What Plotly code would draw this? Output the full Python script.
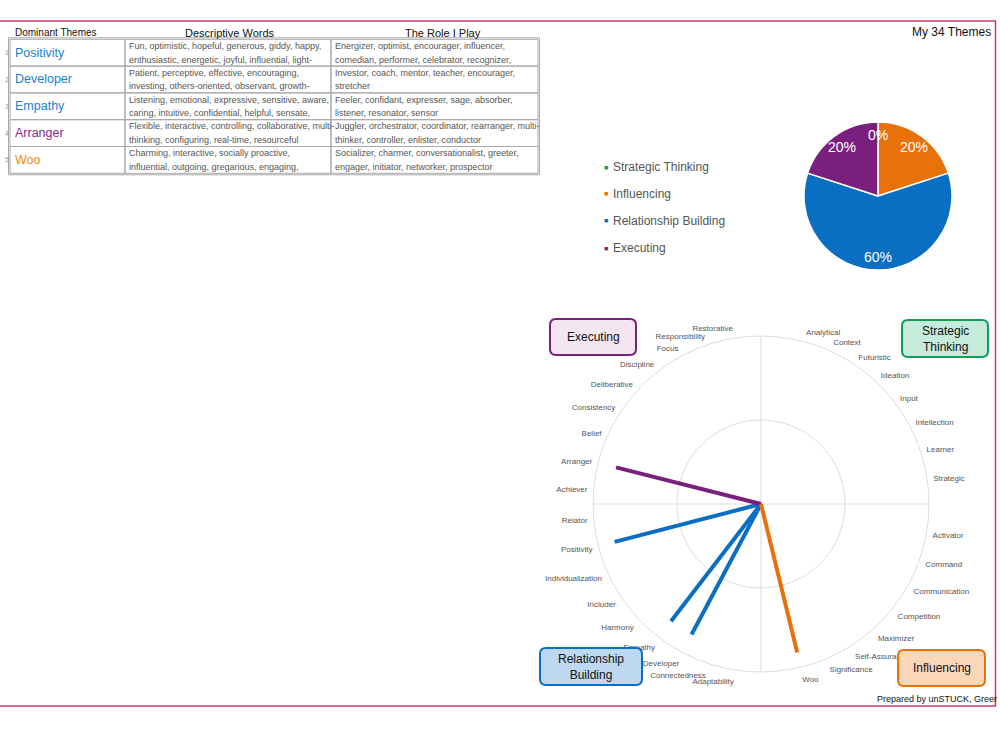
import math
import plotly.graph_objects as go

W, H = 1000, 750
FONT = "Liberation Sans, Arial, sans-serif"

# ---------------- data ----------------
domains = ["Strategic Thinking", "Influencing", "Relationship Building", "Executing"]
domain_colors = ["#0f9d58", "#e8710a", "#0a6fc2", "#7b1f7f"]
table_name_colors = {"Strategic Thinking": "#0f9d58", "Influencing": "#f08a12",
                     "Relationship Building": "#1a7fd2", "Executing": "#862b8c"}
box_fill = ["#c6eadb", "#fbd7ba", "#bdd8f0", "#f3e6f1"]

strategic_themes = ["Analytical", "Context", "Futuristic", "Ideation", "Input",
                    "Intellection", "Learner", "Strategic"]
influencing_themes = ["Activator", "Command", "Communication", "Competition", "Maximizer",
                      "Self-Assurance", "Significance", "Woo"]
relationship_themes = ["Adaptability", "Connectedness", "Developer", "Empathy", "Harmony",
                       "Includer", "Individualization", "Positivity", "Relator"]
executing_themes = ["Achiever", "Arranger", "Belief", "Consistency", "Deliberative",
                    "Discipline", "Focus", "Responsibility", "Restorative"]
domain_theme_lists = [strategic_themes, influencing_themes, relationship_themes, executing_themes]

top_themes = ["Positivity", "Developer", "Empathy", "Arranger", "Woo"]
top_theme_domains = ["Relationship Building", "Relationship Building", "Relationship Building",
                     "Executing", "Influencing"]
top_theme_values = [0.90, 0.88, 0.88, 0.89, 0.91]

descriptive_words = [
    ("Fun, optimistic, hopeful, generous, giddy, happy,", "enthusiastic, energetic, joyful, influential, light-"),
    ("Patient, perceptive, effective, encouraging,", "investing, others-oriented, observant, growth-"),
    ("Listening, emotional, expressive, sensitive, aware,", "caring, intuitive, confidential, helpful, sensate,"),
    ("Flexible, interactive, controlling, collaborative, multi-", "thinking, configuring, real-time, resourceful"),
    ("Charming, interactive, socially proactive,", "influential, outgoing, gregarious, engaging,"),
]
roles = [
    ("Energizer, optimist, encourager, influencer,", "comedian, performer, celebrator, recognizer,"),
    ("Investor, coach, mentor, teacher, encourager,", "stretcher"),
    ("Feeler, confidant, expresser, sage, absorber,", "listener, resonator, sensor"),
    ("Juggler, orchestrator, coordinator, rearranger, multi-", "thinker, controller, enlister, conductor"),
    ("Socializer, charmer, conversationalist, greeter,", "engager, initiator, networker, prospector"),
]
table_headers = ["Dominant Themes", "Descriptive Words", "The Role I Play"]

domain_counts = [top_theme_domains.count(d) for d in domains]


def px(x):
    return x / W


def py(y):
    return 1 - y / H


annotations = []


def ann(x, y, text, size, color="#111111", xanchor="center", yanchor="middle"):
    annotations.append(dict(x=px(x), y=py(y), xref="paper", yref="paper", text=text,
                            xanchor=xanchor, yanchor=yanchor, showarrow=False,
                            font=dict(size=size, color=color, family=FONT)))


# ---------------- radar angles (each domain sits in its own quadrant) ----------------
DOMAIN_START_DEG = [15.0, 99.8, 189.0, 274.7]   # layout: where each quadrant's first theme sits
STEP = 9.5                                       # layout: angular spacing of themes
theme_angle = {}
all_angles, all_names = [], []
for start, lst in zip(DOMAIN_START_DEG, domain_theme_lists):
    for i, name in enumerate(lst):
        a = start + i * STEP
        theme_angle[name] = a
        all_angles.append(a)
        all_names.append(name)

fig = go.Figure()

fig.add_trace(go.Scatterpolar(r=[], theta=[], subplot="polar", showlegend=False, hoverinfo="skip"))

for name, dom, val in zip(top_themes, top_theme_domains, top_theme_values):
    c = domain_colors[domains.index(dom)]
    fig.add_trace(go.Scatterpolar(r=[0, val], theta=[theme_angle[name]] * 2, mode="lines",
                                  line=dict(color=c, width=4), subplot="polar2",
                                  showlegend=False, name=name))

# pie
PIE_CX, PIE_CY, PIE_R = 878, 196, 74
fig.add_trace(go.Pie(labels=domains, values=domain_counts, sort=False, direction="clockwise",
                     rotation=0, marker=dict(colors=domain_colors, line=dict(color="white", width=1.5)),
                     textinfo="none",
                     domain=dict(x=[px(PIE_CX - PIE_R), px(PIE_CX + PIE_R)],
                                 y=[py(PIE_CY + PIE_R), py(PIE_CY - PIE_R)]),
                     showlegend=False, hoverinfo="label+percent"))
# slice labels placed along each slice's mid-angle
total = sum(domain_counts)
cum = 0
for v in domain_counts:
    mid = (cum + v / 2) / total * 2 * math.pi
    cum += v
    rr = PIE_R * 0.82
    ann(PIE_CX + rr * math.sin(mid), PIE_CY - rr * math.cos(mid), f"{v / total:.0%}", 14, "white")

polar_dom = dict(x=[px(761 - 168), px(761 + 168)], y=[py(504 + 168), py(504 - 168)])
grid_c = "#dcdcdc"
fig.update_layout(
    polar=dict(domain=polar_dom, bgcolor="white",
               angularaxis=dict(rotation=90, direction="clockwise", tickvals=[0, 90, 180, 270],
                                showticklabels=False, ticks="", showgrid=True, gridcolor=grid_c,
                                gridwidth=1, showline=True, linecolor=grid_c, linewidth=1),
               radialaxis=dict(range=[0, 1], tickvals=[0.5], showticklabels=False, ticks="",
                               showline=False, showgrid=True, gridcolor=grid_c)),
    polar2=dict(domain=polar_dom, bgcolor="rgba(0,0,0,0)",
                angularaxis=dict(rotation=90, direction="clockwise", tickvals=all_angles,
                                 ticktext=all_names, ticks="outside", ticklen=4,
                                 tickcolor="rgba(0,0,0,0)", showgrid=False, showline=False,
                                 tickfont=dict(size=8, color="#555555", family=FONT)),
                radialaxis=dict(range=[0, 1], visible=False)),
)

shapes = []

# outer frame
frame_c = "#c63a60"
shapes += [
    dict(type="line", xref="paper", yref="paper", x0=0, x1=px(996), y0=py(21), y1=py(21),
         line=dict(color=frame_c, width=1.5)),
    dict(type="line", xref="paper", yref="paper", x0=px(995.5), x1=px(995.5), y0=py(21), y1=py(706),
         line=dict(color=frame_c, width=1.5)),
    dict(type="line", xref="paper", yref="paper", x0=0, x1=px(996), y0=py(706), y1=py(706),
         line=dict(color=frame_c, width=1.5)),
]

# ---------------- table ----------------
col_edges = [10, 125, 331, 538]
row_top, row_h = 39.3, 26.8
tb_c = "#a9a9a9"
n_rows = len(top_themes)
shapes.append(dict(type="rect", xref="paper", yref="paper", x0=px(col_edges[0] - 1.5),
                   x1=px(col_edges[-1] + 1.5), y0=py(row_top - 1.5), y1=py(row_top + n_rows * row_h + 1.5),
                   line=dict(color=tb_c, width=1)))
for r in range(n_rows):
    y0 = row_top + r * row_h
    for c in range(3):
        shapes.append(dict(type="rect", xref="paper", yref="paper", x0=px(col_edges[c]),
                           x1=px(col_edges[c + 1]), y0=py(y0), y1=py(y0 + row_h),
                           line=dict(color=tb_c, width=1)))
    ymid = y0 + row_h / 2
    ann(6.5, ymid, str(r + 1), 7, "#999999")
    ann(12.5, ymid, top_themes[r], 12.5, table_name_colors[top_theme_domains[r]], xanchor="left")
    for c, cell in ((1, descriptive_words[r]), (2, roles[r])):
        for li, line in enumerate(cell):
            ann(col_edges[c] + 2, y0 + 6.6 + li * 13.6, line, 9, "#555555", xanchor="left")

ann(13, 32.5, table_headers[0], 10, xanchor="left")
ann(229.5, 32.5, table_headers[1], 11)
ann(443, 32.5, table_headers[2], 11)

# ---------------- titles ----------------
ann(993, 31.5, "My 34 Themes", 12, xanchor="right")
ann(875, 699, "Prepared by unSTUCK, Greer", 9, xanchor="left")

# ---------------- pie legend ----------------
for k, (d, c) in enumerate(zip(domains, domain_colors)):
    yy = 167 + 27 * k
    ann(606, yy, "■", 7, c)
    ann(611, yy, d, 12, "#555555", xanchor="left")

# ---------------- domain boxes ----------------
box_rects = {  # x0, y0, x1, y1 in pixels
    "Strategic Thinking": (902, 320, 988, 357),
    "Influencing": (898, 650, 985, 686),
    "Relationship Building": (540, 648, 642, 685),
    "Executing": (550, 319, 636, 355),
}
box_text = {"Strategic Thinking": "Strategic<br>Thinking", "Influencing": "Influencing",
            "Relationship Building": "Relationship<br>Building", "Executing": "Executing"}


def rounded(x0, y0, x1, y1, r=6):
    X0, X1 = px(x0), px(x1)
    Y0, Y1 = py(y0), py(y1)
    rx, ry = r / W, r / H
    return (f"M {X0 + rx},{Y0} L {X1 - rx},{Y0} Q {X1},{Y0} {X1},{Y0 - ry} "
            f"L {X1},{Y1 + ry} Q {X1},{Y1} {X1 - rx},{Y1} L {X0 + rx},{Y1} Q {X0},{Y1} {X0},{Y1 + ry} "
            f"L {X0},{Y0 - ry} Q {X0},{Y0} {X0 + rx},{Y0} Z")


for d, c, f in zip(domains, domain_colors, box_fill):
    x0, y0, x1, y1 = box_rects[d]
    shapes.append(dict(type="path", xref="paper", yref="paper", path=rounded(x0, y0, x1, y1),
                       fillcolor=f, line=dict(color=c, width=2)))
    ann((x0 + x1) / 2, (y0 + y1) / 2, box_text[d], 12)

fig.update_layout(
    width=W, height=H, margin=dict(l=0, r=0, t=0, b=0),
    paper_bgcolor="white", plot_bgcolor="white", showlegend=False,
    font=dict(family=FONT), shapes=shapes, annotations=annotations,
)

fig.write_html("out.html")
